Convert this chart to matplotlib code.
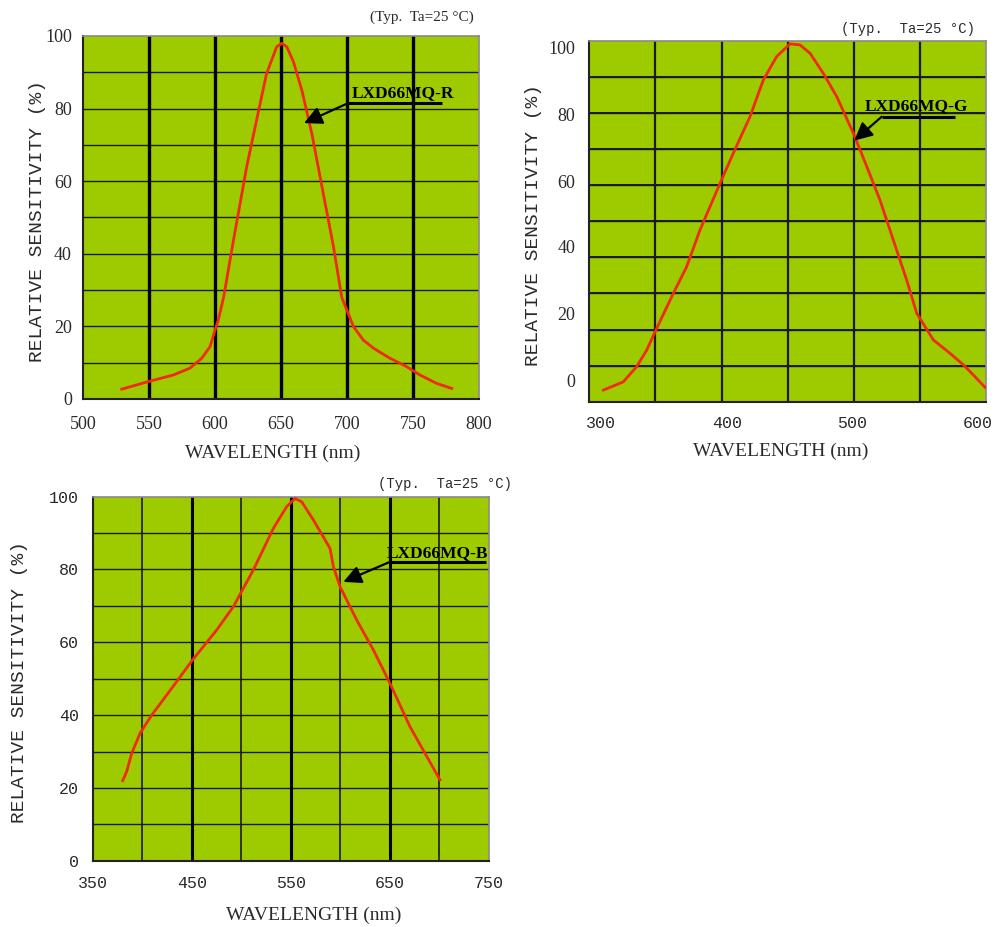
import matplotlib
matplotlib.use("Agg")
import matplotlib.pyplot as plt
import numpy as np

# ---- data ----
red_wl = [529.3, 549.5, 568.4, 581, 589.9, 596.2, 600, 602.5, 606.5, 614, 624,
          632, 639, 646.7, 650.6, 654.4, 659.5, 665.8, 673.4, 682, 689.7, 696,
          704.9, 712.4, 720, 732.6, 745.2, 755.3, 767.9, 779.3]
red_sens = [2.7, 4.8, 6.6, 8.5, 11.2, 14.4, 19, 21.8, 28, 43.8, 64,
            77.7, 89.6, 97, 98, 97, 92.8, 85, 73, 56.6, 42, 28,
            19.9, 16.2, 14, 11.2, 8.9, 6.6, 4.3, 2.9]

green_wl = [310.6, 325.7, 335.8, 343.4, 350.4, 363.5, 373.6, 383.7, 391.3,
            398.8, 408.9, 421.5, 431.6, 441.7, 451.8, 459.3, 466.9, 477, 487.1,
            499.7, 509.8, 519.8, 529.9, 540, 547.6, 560.2, 572.8, 582.9, 590.4, 599.2]
green_sens = [3.2, 5.5, 9.7, 14.3, 19.9, 30.0, 37.4, 47.6, 54.1,
              60.5, 68.9, 79.0, 89.2, 95.7, 99.2, 98.9, 96.6, 91.0, 84.6,
              74.4, 65.2, 55.9, 44.8, 33.7, 24.5, 17.1, 13.4, 10.2, 7.4, 4.0]

blue_wl = [380.3, 384.3, 389.4, 397.8, 409.6, 434.8, 450.7, 475.3, 492.1, 512.3,
           532.5, 546, 554.4, 561.1, 572.9, 589.7, 593.1, 599.8, 616.7, 633.5,
           650.3, 670.5, 700.8]
blue_sens = [22.0, 24.5, 29.5, 35.0, 40.0, 49.2, 55.1, 63.4, 69.8, 79.9,
             91.3, 97.3, 99.5, 98.6, 93.6, 85.8, 80.8, 75.3, 66.1, 57.9,
             48.7, 36.8, 22.2]

labels = ["LXD66MQ-R", "LXD66MQ-G", "LXD66MQ-B"]

GREEN = "#9ecb00"
RED = "#f02a10"
TXT = "#2a2a2a"
MONO = "Liberation Mono"
SERIF = "Liberation Serif"

fig = plt.figure(figsize=(9.98, 9.27), dpi=100)


def base_axes(rect, xlim):
    ax = fig.add_axes(rect)
    ax.set_facecolor(GREEN)
    ax.set_xlim(*xlim)
    ax.set_ylim(0, 100)
    ax.tick_params(length=0, colors=TXT)
    for s in ("left", "bottom"):
        ax.spines[s].set_color("#222222")
        ax.spines[s].set_linewidth(1.5)
    for s in ("top", "right"):
        ax.spines[s].set_color("#8a8a8a")
        ax.spines[s].set_linewidth(1.2)
    for y in np.arange(10, 100, 10):
        ax.axhline(y, color="#1a1a1a", lw=1.0, zorder=1)
    return ax


def annotate(ax, text, tail, tip, text_xy, line_end):
    ax.annotate("", xy=tip, xytext=tail,
                arrowprops=dict(arrowstyle="-|>", color="black", lw=1.6,
                                mutation_scale=27, shrinkA=0, shrinkB=0),
                zorder=5)
    ax.plot([tail[0], line_end], [tail[1], tail[1]], color="black", lw=2.2,
            zorder=5, solid_capstyle="butt")
    ax.text(text_xy[0], text_xy[1], text, family=SERIF, weight="bold",
            fontsize=12.5, ha="left", va="center", color="black", zorder=6)


def labels_text(ax, ylab_x, xlab_xy):
    ax.set_ylabel("RELATIVE SENSITIVITY (%)", family=MONO, fontsize=14,
                  color=TXT)
    ax.yaxis.set_label_coords(ylab_x, 0.49)
    ax.set_xlabel("WAVELENGTH (nm)", family=SERIF, fontsize=14, color=TXT)
    ax.xaxis.set_label_coords(*xlab_xy)


# ---- panel 1: red ----
ax1 = base_axes([0.0832, 0.5696, 0.3968, 0.3916], (500, 800))
for x in np.arange(550, 800, 50):
    ax1.axvline(x, color="black", lw=2.4, zorder=1)
ax1.plot(red_wl, red_sens, color=RED, lw=2.0, zorder=3)
ax1.set_xticks(np.arange(500, 801, 50))
ax1.set_yticks(np.arange(0, 101, 20))
for t in ax1.get_xticklabels() + ax1.get_yticklabels():
    t.set_family(SERIF)
    t.set_fontsize(13)
ax1.tick_params(axis="x", pad=12)
ax1.tick_params(axis="y", pad=8)
labels_text(ax1, -0.093, (0.479, -0.125))
ax1.text(0.987, 1.052, "(Typ.  Ta=25 \u00b0C)", transform=ax1.transAxes,
         family=SERIF, fontsize=11, ha="right", va="center", color=TXT)
annotate(ax1, labels[0], (700.8, 81.5), (667.4, 76), (703.5, 84.2), 772)

# ---- panel 2: green ----
ax2 = base_axes([0.5905, 0.5667, 0.3975, 0.3891], (300, 600))
for y in np.arange(10, 100, 10):
    ax2.axhline(y, color="#1a1a1a", lw=1.4, zorder=1)
for x in np.arange(350, 600, 50):
    ax2.axvline(x, color="#1a1a1a", lw=1.6, zorder=1)
ax2.plot(green_wl, green_sens, color=RED, lw=2.0, zorder=3)
# tick labels sit slightly off the grid in the original scan
ax2.set_xticks([309, 404.5, 498.5, 594], ["300", "400", "500", "600"])
ax2.set_yticks([6.0, 24.5, 43.0, 61.0, 79.5, 98.2],
               ["0", "20", "40", "60", "80", "100"])
for t in ax2.get_xticklabels():
    t.set_family(MONO)
    t.set_fontsize(12)
for t in ax2.get_yticklabels():
    t.set_family(SERIF)
    t.set_fontsize(13)
ax2.tick_params(axis="x", pad=10)
ax2.tick_params(axis="y", pad=10)
labels_text(ax2, -0.12, (0.483, -0.113))
ax2.text(0.972, 1.033, "(Typ.  Ta=25 \u00b0C)", transform=ax2.transAxes,
         family=MONO, fontsize=10, ha="right", va="center", color=TXT)
annotate(ax2, labels[1], (521.1, 79.0), (500.4, 72.4), (508.5, 82.0), 576.6)

# ---- panel 3: blue ----
ax3 = base_axes([0.0929, 0.0715, 0.3968, 0.3927], (350, 750))
for x in np.arange(400, 750, 50):
    thick = x in (450, 550, 650)
    ax3.axvline(x, color="black" if thick else "#1a1a1a",
                lw=2.2 if thick else 1.2, zorder=1)
ax3.plot(blue_wl, blue_sens, color=RED, lw=2.0, zorder=3)
ax3.set_xticks(np.arange(350, 751, 100))
ax3.set_yticks(np.arange(0, 101, 20))
for t in ax3.get_xticklabels() + ax3.get_yticklabels():
    t.set_family(MONO)
    t.set_fontsize(12)
ax3.tick_params(axis="x", pad=11)
ax3.tick_params(axis="y", pad=10)
labels_text(ax3, -0.163, (0.559, -0.125))
ax3.text(1.059, 1.035, "(Typ.  Ta=25 \u00b0C)", transform=ax3.transAxes,
         family=MONO, fontsize=10, ha="right", va="center", color=TXT)
annotate(ax3, labels[2], (650.3, 82.1), (603.1, 76.6), (646.5, 84.6), 747.3)

fig.savefig("out.png", dpi=100, facecolor="white")
